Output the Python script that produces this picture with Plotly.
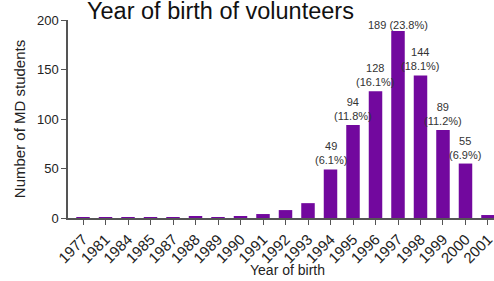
import plotly.graph_objects as go

years = ["1977", "1981", "1984", "1985", "1987", "1988", "1989", "1990", "1991", "1992",
         "1993", "1994", "1995", "1996", "1997", "1998", "1999", "2000", "2001"]
counts = [1, 1, 1, 1, 1, 2, 1, 2, 4, 8, 15, 49, 94, 128, 189, 144, 89, 55, 3]
label_years = ["1994", "1995", "1996", "1997", "1998", "1999", "2000"]
label_texts = ["49<br>(6.1%)", "94<br>(11.8%)", "128<br>(16.1%)", "189 (23.8%)",
               "144<br>(18.1%)", "89<br>(11.2%)", "55<br>(6.9%)"]
y_ticks = [0, 50, 100, 150, 200]

FONT = "Liberation Sans, Arial, sans-serif"
count_by_year = dict(zip(years, counts))

# plot area on screen: x 68..494, y 20..218 (body margin removed below)
PL, PR, PT, PB = 68, 494, 20, 218
PW, PH = PR - PL, PB - PT


def px(x):
    return (x - PL) / PW


def py(y):
    return (PB - y) / PH


fig = go.Figure()
fig.add_trace(go.Bar(x=years, y=counts, width=0.6,
                     marker=dict(color="#72089E", line=dict(width=0))))

annotations = []
for yr, txt in zip(label_years, label_texts):
    single = "<br>" not in txt
    annotations.append(dict(x=years.index(yr), y=count_by_year[yr], xref="x", yref="y",
                            text=txt, showarrow=False, yanchor="bottom",
                            yshift=-2 if single else 1,
                            font=dict(family=FONT, size=11, color="#333333")))
annotations.append(dict(x=px(287), y=py(270), xref="paper", yref="paper",
                        text="Year of birth", showarrow=False, xanchor="center",
                        yanchor="middle", font=dict(family=FONT, size=14, color="#222222")))
annotations.append(dict(x=px(85), y=py(11), xref="paper", yref="paper",
                        text="Year of birth of volunteers", showarrow=False,
                        xanchor="left", yanchor="middle",
                        font=dict(family=FONT, size=23.5, color="#111111")))

fig.update_layout(
    width=494, height=281,
    margin=dict(l=PL, r=494 - PR, t=PT, b=281 - PB, autoexpand=False),
    paper_bgcolor="white", plot_bgcolor="white",
    showlegend=False,
    xaxis=dict(type="category", range=[-0.667, 18.267], showline=True, automargin=False,
               linecolor="#555555", linewidth=1.5, ticks="outside", ticklen=5,
               tickcolor="#555555", tickwidth=1.2, tickangle=-45,
               tickfont=dict(family=FONT, size=15, color="#222222"), showgrid=False),
    yaxis=dict(range=[0, 200], tickvals=y_ticks, showline=True, linecolor="#555555",
               linewidth=1.5, ticks="outside", ticklen=5, tickcolor="#555555",
               tickwidth=1.2, showgrid=False, zeroline=False, automargin=False,
               tickfont=dict(family=FONT, size=13, color="#222222"),
               title=dict(text="Number of MD students", standoff=8,
                          font=dict(family=FONT, size=15, color="#222222"))),
    annotations=annotations,
    bargap=0.4,
)

fig.write_html("out.html", config={"displayModeBar": False},
               post_script="document.body.style.margin='0';")
